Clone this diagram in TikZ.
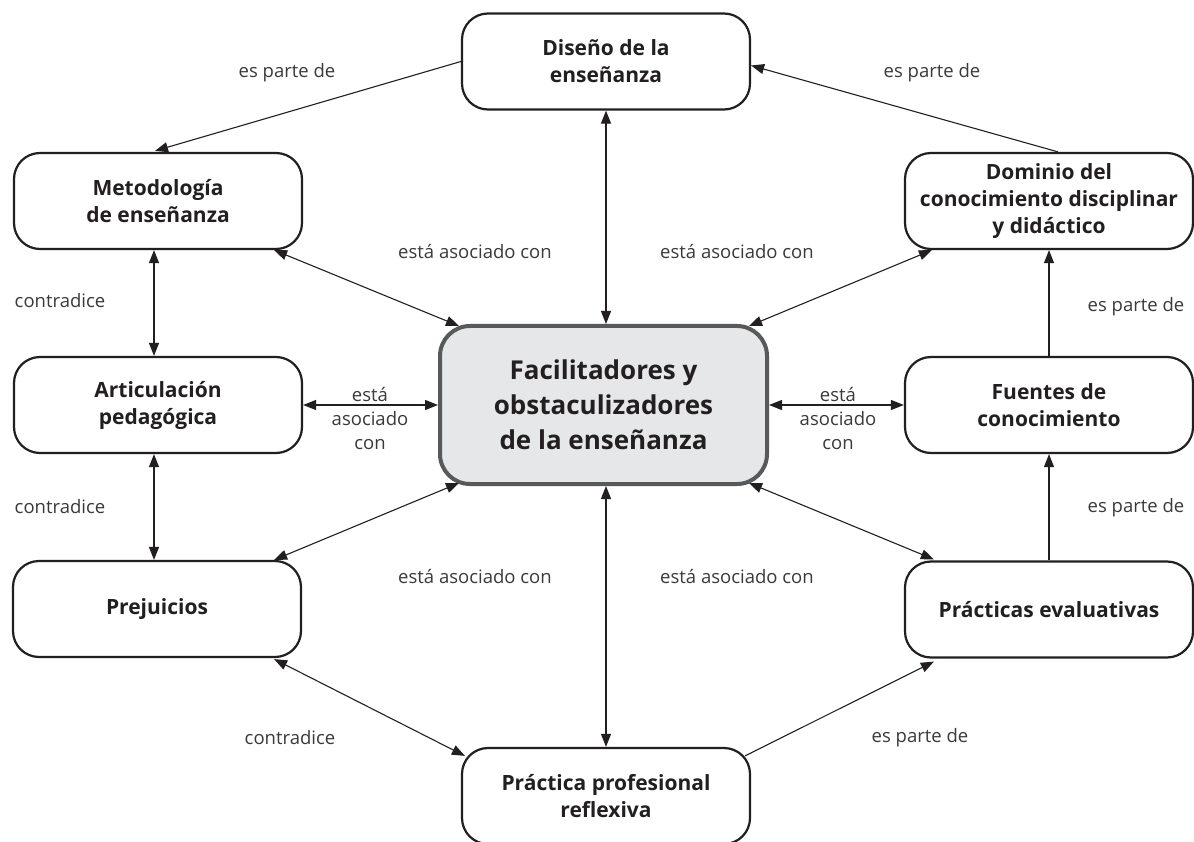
\documentclass[tikz,border=0pt]{standalone}
\usepackage{fontspec}
\setmainfont{Open Sans}
\usetikzlibrary{arrows.meta,calc}
\definecolor{txt}{HTML}{231F20}
\definecolor{lblc}{HTML}{3A3A3A}
\definecolor{cfill}{HTML}{E6E7E8}
\definecolor{cdraw}{HTML}{58595B}
\begin{document}
\begin{tikzpicture}[x=1pt,y=-1pt,
 box/.style={draw=txt, line width=2.2pt, rounded corners=26pt, minimum width=288pt, minimum height=96pt, align=center, font=\fontsize{21}{27}\selectfont\bfseries, text=txt, inner sep=0pt},
 core/.style={draw=cdraw, fill=cfill, line width=4pt, rounded corners=30pt, minimum width=327pt, minimum height=158pt, align=center, font=\fontsize{26}{35}\selectfont\bfseries, text=txt, inner sep=0pt},
 lbl/.style={font=\fontsize{18.5}{24}\selectfont, text=lblc, align=center, inner sep=0pt},
 con/.style={line width=1.1pt, draw=txt},
 tip/.style={con, -{Triangle[length=13pt,width=10pt]}},
 dtip/.style={con, {Triangle[length=13pt,width=10pt]}-{Triangle[length=13pt,width=10pt]}},
]
\useasboundingbox (0,0) rectangle (1194,842);
\fill[white] (0,0) rectangle (1194,842);

% nodes
\node[box] (dis) at (606,61.5) {Diseño de la\\enseñanza};
\node[box] (met) at (158,201) {Metodología\\de enseñanza};
\node[box] (dom) at (1049,201) {Dominio del\\conocimiento disciplinar\\y didáctico};
\node[box] (art) at (158,405) {Articulación\\pedagógica};
\node[box] (fue) at (1049,405) {Fuentes de\\conocimiento};
\node[box] (pre) at (157,609) {Prejuicios};
\node[box] (pev) at (1049,609.5) {Prácticas evaluativas};
\node[box] (ppr) at (606,796) {Práctica profesional\\reflexiva};
\node[core] (core) at (603.5,405) {Facilitadores y\\obstaculizadores\\de la enseñanza};

% connectors
\draw[tip] (dis.west) -- ($(met.north)+(-3,-1)$);
\draw[tip] ($(dom.north)+(9,0)$) -- ($(dis.east)+(0,4)$);
\draw[dtip] (dis.south) -- (dis.south |- core.north);
\draw[dtip] ($(met.south east)+(-29,0)$) -- ($(core.north west)+(21,2)$);
\draw[dtip] ($(dom.south west)+(28,0)$) -- ($(core.north east)+(-20,2)$);
\draw[dtip] ($(met.south)+(-4,0)$) -- ($(art.north)+(-4,0)$);
\draw[dtip] (art.east) -- (core.west);
\draw[dtip] (core.east) -- (fue.west);
\draw[tip] (fue.north) -- (dom.south);
\draw[tip] (pev.north) -- (fue.south);
\draw[dtip] ($(art.south)+(-4,0)$) -- ($(pre.north)+(-3,0)$);
\draw[dtip] ($(core.south west)+(21,-3)$) -- ($(pre.north east)+(-28,0)$);
\draw[dtip] ($(core.south east)+(-20,-3)$) -- ($(pev.north west)+(30,-1)$);
\draw[dtip] (ppr.north |- core.south) -- (ppr.north);
\draw[dtip] ($(pre.south east)+(-28,1)$) -- ($(ppr.north west)+(4,9)$);
\draw[tip] ($(ppr.north east)+(-6,9)$) -- ($(pev.south west)+(30,3)$);

% labels
\node[lbl] (l1) at (287,73) {es parte de};
\node[lbl] (l2) at (932,73) {es parte de};
\node[lbl] (l3) at (475,252) {está asociado con};
\node[lbl] (l4) at (737,252) {está asociado con};
\node[lbl] (l5) at (60,301) {contradice};
\node[lbl] (l6) at (60,507) {contradice};
\node[lbl] (l7) at (370,419) {está\\asociado\\con};
\node[lbl] (l8) at (838,419) {está\\asociado\\con};
\node[lbl] (l9) at (1136,307) {es parte de};
\node[lbl] (l10) at (1136,508) {es parte de};
\node[lbl] (l11) at (475,577) {está asociado con};
\node[lbl] (l12) at (737,577) {está asociado con};
\node[lbl] (l13) at (290,738) {contradice};
\node[lbl] (l14) at (920,738) {es parte de};
\end{tikzpicture}
\end{document}
